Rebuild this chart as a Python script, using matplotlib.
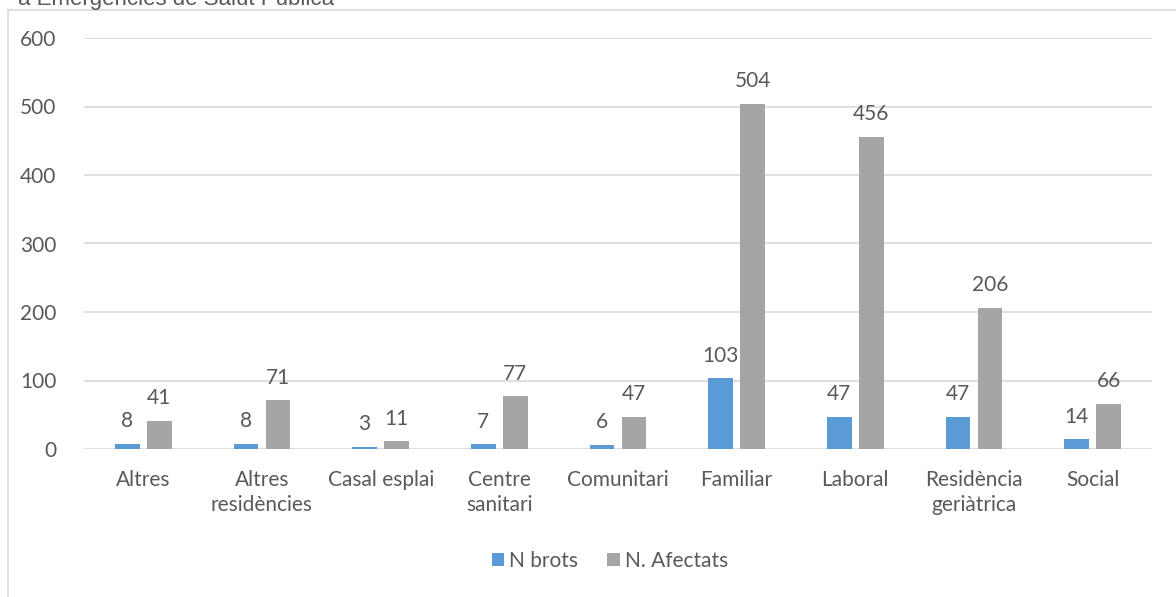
import matplotlib.pyplot as plt
import matplotlib.patches as patches
import numpy as np

categories = ["Altres", "Altres\nresidències", "Casal esplai", "Centre\nsanitari",
              "Comunitari", "Familiar", "Laboral", "Residència\ngeriàtrica", "Social"]
n_brots = [8, 8, 3, 7, 6, 103, 47, 47, 14]
n_afectats = [41, 71, 11, 77, 47, 504, 456, 206, 66]
yticks = [0, 100, 200, 300, 400, 500, 600]

blue = "#5B9BD5"
gray = "#A5A5A5"
text_col = "#595959"
grid_col = "#D9D9D9"
fs = 15

plt.rcParams['font.family'] = ['Lato', 'DejaVu Sans']

fig = plt.figure(figsize=(11.76, 5.97), dpi=100)
ax = fig.add_axes([84 / 1176, 1 - 449 / 597, (1152 - 84) / 1176, (449 - 38) / 597])

# Outer chart border (cut off at right and bottom)
fig.patches.append(patches.Rectangle((8 / 1176, -0.1), 1.2, 1 - 10 / 597 + 0.1,
                                     transform=fig.transFigure, fill=False,
                                     edgecolor=grid_col, linewidth=1.2))

# Cropped title line at top
fig.text(18 / 1176, 1 - 5 / 597, "a Emergències de Salut Pública", fontsize=16,
         color=text_col, ha='left', va='baseline', family='Liberation Sans')

x = np.arange(len(categories))
w = 0.21
off = 0.135
b1 = ax.bar(x - off, n_brots, w, color=blue, label="N brots", zorder=3)
b2 = ax.bar(x + off, n_afectats, w, color=gray, label="N. Afectats", zorder=3)

for bars in (b1, b2):
    for rect in bars:
        h = rect.get_height()
        ax.annotate(f"{int(h)}", (rect.get_x() + rect.get_width() / 2, h),
                    xytext=(0, 9), textcoords='offset points', ha='center',
                    va='bottom', fontsize=fs, color=text_col)

ax.set_xlim(-0.5, len(categories) - 0.5)
ax.set_ylim(0, 600)
ax.set_yticks(yticks)
ax.set_xticks(x)
ax.set_xticklabels(categories, linespacing=1.3)
ax.tick_params(axis='both', length=0, labelsize=fs, colors=text_col)
ax.tick_params(axis='y', pad=20)
ax.tick_params(axis='x', pad=15)
ax.grid(axis='y', color=grid_col, linewidth=1.2, zorder=0)
for s in ax.spines.values():
    s.set_visible(False)

leg = fig.legend(loc='center', bbox_to_anchor=(610 / 1176, 1 - 561 / 597), ncol=2,
                 frameon=False, fontsize=fs, handlelength=0.6, handleheight=0.6,
                 handletextpad=0.25, columnspacing=1.4)
for t in leg.get_texts():
    t.set_color(text_col)

fig.savefig("out.png", dpi=100)
